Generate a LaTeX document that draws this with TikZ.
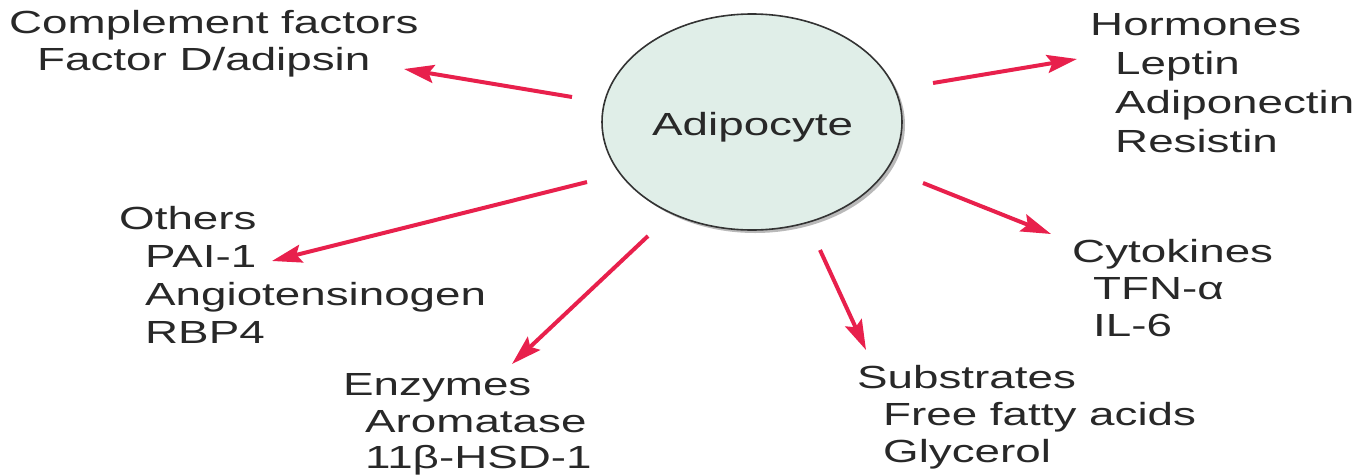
\documentclass[tikz,border=0pt]{standalone}
\usepackage{fontspec}
\setmainfont[FakeStretch=1.43]{Liberation Sans}
\usetikzlibrary{arrows.meta}
\definecolor{arr}{RGB}{232,32,76}
\definecolor{cellfill}{RGB}{224,238,232}
\definecolor{txt}{RGB}{40,40,40}
\begin{document}
\begin{tikzpicture}[x=1pt,y=-1pt,
  lbl/.style={anchor=base west,inner sep=0pt,text=txt,font=\fontsize{32}{38}\selectfont},
  arrowline/.style={draw=arr,line width=4pt,-{Stealth[length=30pt,width=18pt,inset=5pt]}}]
\useasboundingbox (0,0) rectangle (1367,474);
% cell
\fill[gray!55] (755,125) ellipse [x radius=150, y radius=108];
\draw[fill=cellfill,draw=black!80,line width=1.6pt] (752,122) ellipse [x radius=150, y radius=108];
\node[lbl] (adip) at (652,135) {Adipocyte};
% labels
\node[lbl] (cf) at (9,33) {Complement factors};
\node[lbl] (cf1) at (37,70) {Factor D/adipsin};
\node[lbl] (ho) at (1090,35) {Hormones};
\node[lbl] (ho1) at (1115,74) {Leptin};
\node[lbl] (ho2) at (1115,113) {Adiponectin};
\node[lbl] (ho3) at (1115,152) {Resistin};
\node[lbl] (ot) at (119,229) {Others};
\node[lbl] (ot1) at (145,267) {PAI-1};
\node[lbl] (ot2) at (145,305) {Angiotensinogen};
\node[lbl] (ot3) at (145,343) {RBP4};
\node[lbl] (cy) at (1072,262) {Cytokines};
\node[lbl] (cy1) at (1093,299) {TFN-α};
\node[lbl] (cy2) at (1093,336) {IL-6};
\node[lbl] (en) at (343,395) {Enzymes};
\node[lbl] (en1) at (365,432) {Aromatase};
\node[lbl] (en2) at (365,468) {11β-HSD-1};
\node[lbl] (su) at (857,388) {Substrates};
\node[lbl] (su1) at (883,425) {Free fatty acids};
\node[lbl] (su2) at (883,462) {Glycerol};
% arrow ends
\coordinate (s1) at (572,97);  \coordinate (t1) at (404,69);
\coordinate (s2) at (933,83);  \coordinate (t2) at (1077,59);
\coordinate (s3) at (587,182); \coordinate (t3) at (272,261);
\coordinate (s4) at (648,236); \coordinate (t4) at (512,364);
\coordinate (s5) at (820,250); \coordinate (t5) at (866,350);
\coordinate (s6) at (923,183); \coordinate (t6) at (1051,234);
\draw[arrowline] (s1) -- (t1);
\draw[arrowline] (s2) -- (t2);
\draw[arrowline] (s3) -- (t3);
\draw[arrowline] (s4) -- (t4);
\draw[arrowline] (s5) -- (t5);
\draw[arrowline] (s6) -- (t6);
\end{tikzpicture}
\end{document}
